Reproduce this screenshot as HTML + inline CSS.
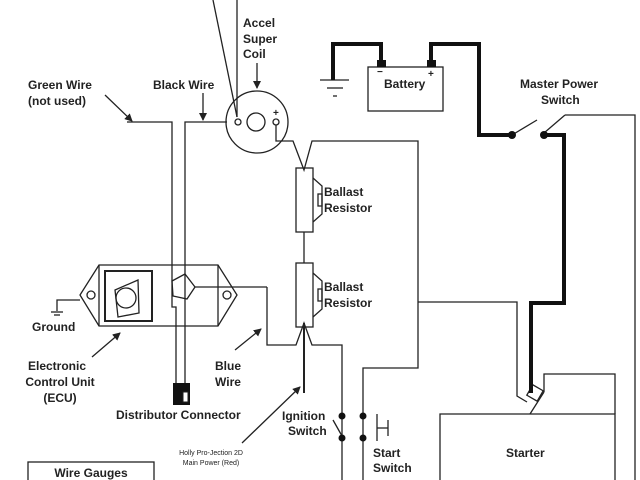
<!DOCTYPE html>
<html><head><style>
html,body{margin:0;padding:0;background:#fff;}
svg{display:block}
text{font-family:"Liberation Sans",sans-serif;font-weight:bold;fill:#222;font-size:12px}
</style></head><body>
<svg width="640" height="480" viewBox="0 0 640 480" xmlns="http://www.w3.org/2000/svg">
<defs><marker id="a" markerWidth="8" markerHeight="8" refX="7" refY="4" orient="auto" markerUnits="userSpaceOnUse"><path d="M0,0 L8,4 L0,8 z" fill="#222"/></marker></defs>
<rect width="640" height="480" fill="#fff"/>
<g stroke="#222" fill="none" stroke-width="1.3">
<!-- coil -->
<circle cx="257" cy="122" r="31"/>
<circle cx="256" cy="122" r="9"/>
<circle cx="238" cy="122" r="3"/>
<circle cx="276" cy="122" r="3"/>
<line x1="213" y1="0" x2="237" y2="117"/>
<line x1="237" y1="0" x2="237" y2="117"/>
<line x1="257" y1="63" x2="257" y2="88" marker-end="url(#a)"/>
<!-- green / black wires -->
<polyline points="127,122 172,122 172,307 176,307 176,385"/>
<polyline points="227,122 185,122 185,385"/>
<line x1="105" y1="95" x2="132" y2="121" marker-end="url(#a)"/>
<line x1="203" y1="93" x2="203" y2="120" marker-end="url(#a)"/>
<!-- coil + to ballast -->
<polyline points="276,125 276,141 293,141 304,170 312,141 418,141 418,368 363,368 363,480"/>
<!-- ballast 1 -->
<rect x="296" y="168" width="17" height="64"/>
<polyline points="313,178 322,186 322,214 313,222"/>
<rect x="318" y="194" width="4" height="12"/>
<line x1="304" y1="232" x2="304" y2="263"/>
<!-- ballast 2 -->
<rect x="296" y="263" width="17" height="64"/>
<polyline points="313,273 322,281 322,309 313,317"/>
<rect x="318" y="289" width="4" height="12"/>
<polyline points="267,287 267,345 296,345 304,323 312,345 342,345 342,480"/>
<line x1="304" y1="323" x2="304" y2="393" stroke-width="2"/>
<line x1="242" y1="443" x2="300" y2="387" marker-end="url(#a)"/>
<!-- blue wire -->
<line x1="195" y1="287" x2="267" y2="287"/>
<line x1="235" y1="350" x2="261" y2="329" marker-end="url(#a)"/>
<!-- ECU -->
<polygon points="99,265 218,265 237,295 218,326 99,326 80,295"/>
<line x1="99" y1="265" x2="99" y2="326"/><line x1="218" y1="265" x2="218" y2="326"/>
<circle cx="91" cy="295" r="4"/><circle cx="227" cy="295" r="4"/>
<rect x="105" y="271" width="47" height="50" stroke-width="2"/>
<polygon points="115,290 138,280 139,313 118,317"/>
<circle cx="126" cy="298" r="10"/>
<polygon points="172,281 185,274 195,287 187,299 173,296"/>
<line x1="92" y1="357" x2="120" y2="333" marker-end="url(#a)"/>
<!-- ground -->
<polyline points="80,300 57,300 57,311"/>
<line x1="51" y1="312" x2="63" y2="312"/><line x1="54" y1="315" x2="60" y2="315"/>
<!-- ignition/start switch -->
<line x1="333" y1="420" x2="342" y2="436"/>
<polyline points="388,420 388,436"/><line x1="377" y1="428" x2="388" y2="428"/>
<line x1="377" y1="414" x2="377" y2="441"/>
<!-- solenoid/starter -->
<polyline points="418,302 517,302 517,396 527,402"/>
<polyline points="440,480 440,414 615,414 615,480"/>
<polyline points="544,392 544,374 615,374 615,414"/>
<line x1="544" y1="392" x2="530" y2="414"/>
<rect x="529" y="387" width="12" height="12" transform="rotate(30 535 393)"/>
<polyline points="565,115 635,115 635,480"/>
<line x1="512" y1="135" x2="537" y2="120"/>
<line x1="544" y1="133" x2="565" y2="115"/>
<!-- ground battery -->
<line x1="320" y1="80" x2="349" y2="80"/><line x1="327" y1="88" x2="343" y2="88"/><line x1="333" y1="96" x2="337" y2="96"/>
<rect x="368" y="67" width="75" height="44"/>
<rect x="28" y="462" width="126" height="30"/>
</g>
<g stroke="#111" fill="none" stroke-width="4">
<polyline points="333,80 333,44 381,44 381,62"/>
<polyline points="431,62 431,44 479,44 479,135 512,135"/>
<polyline points="544,135 564,135 564,303 531,303 531,393"/>
</g>
<g fill="#111">
<rect x="377" y="60" width="9" height="7"/><rect x="427" y="60" width="9" height="7"/>
<circle cx="512" cy="135" r="4"/><circle cx="544" cy="135" r="4"/>
<circle cx="342" cy="416" r="3.5"/><circle cx="363" cy="416" r="3.5"/>
<circle cx="342" cy="438" r="3.5"/><circle cx="363" cy="438" r="3.5"/>
<rect x="173" y="383" width="17" height="22"/>
</g>
<rect x="183" y="392" width="5" height="10" fill="#fff" stroke="#222"/>
<text x="243" y="27">Accel</text>
<text x="243" y="43">Super</text>
<text x="243" y="58">Coil</text>
<text x="28" y="89">Green Wire</text>
<text x="28" y="105">(not used)</text>
<text x="153" y="89">Black Wire</text>
<text x="384" y="88">Battery</text>
<text x="377" y="75" style="font-size:10px">−</text>
<text x="428" y="77" style="font-size:10px">+</text>
<text x="273" y="116" style="font-size:10px">+</text>
<text x="520" y="88">Master Power</text>
<text x="541" y="104">Switch</text>
<text x="324" y="196">Ballast</text>
<text x="324" y="212">Resistor</text>
<text x="324" y="291">Ballast</text>
<text x="324" y="307">Resistor</text>
<text x="32" y="331">Ground</text>
<text x="57" y="370" text-anchor="middle">Electronic</text>
<text x="60" y="386" text-anchor="middle">Control Unit</text>
<text x="60" y="402" text-anchor="middle">(ECU)</text>
<text x="228" y="370" text-anchor="middle">Blue</text>
<text x="228" y="386" text-anchor="middle">Wire</text>
<text x="116" y="419">Distributor Connector</text>
<text x="282" y="420">Ignition</text>
<text x="288" y="435">Switch</text>
<text x="373" y="457">Start</text>
<text x="373" y="472">Switch</text>
<text x="506" y="457">Starter</text>
<text x="211" y="455" text-anchor="middle" style="font-size:7px;font-weight:normal">Holly Pro-Jection 2D</text>
<text x="211" y="465" text-anchor="middle" style="font-size:7px;font-weight:normal">Main Power (Red)</text>
<text x="91" y="477" text-anchor="middle">Wire Gauges</text>
</svg>
</body></html>
